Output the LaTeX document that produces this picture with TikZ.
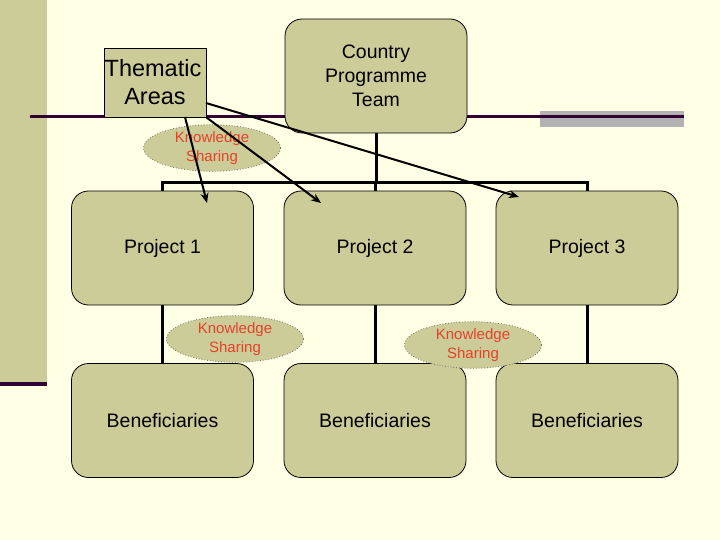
\documentclass[tikz,border=0pt]{standalone}
\usepackage{fontspec}
\setmainfont{Liberation Sans}
\usetikzlibrary{shapes.geometric,arrows.meta}
\pgfdeclarelayer{back}
\pgfdeclarelayer{front}
\pgfsetlayers{back,main,front}
\definecolor{bgc}{RGB}{255,255,229}
\definecolor{olive}{RGB}{204,204,153}
\definecolor{plum}{RGB}{51,0,51}
\definecolor{greybar}{RGB}{178,178,178}
\definecolor{ksred}{RGB}{232,64,40}
\tikzset{
  box/.style={draw=black,line width=0.8pt,fill=olive,rounded corners=17pt,
    minimum width=182pt,minimum height=114pt,inner sep=0pt,align=center,
    font=\fontsize{19.5}{24}\selectfont},
  sqbox/.style={draw=black,line width=0.8pt,fill=olive,
    minimum width=102pt,minimum height=69pt,inner sep=0pt,align=center,
    font=\fontsize{23.5}{28}\selectfont},
  ks/.style={ellipse,draw=black!55,dotted,line width=0.8pt,fill=olive,
    minimum width=137pt,minimum height=40pt,inner sep=0pt,align=center,
    text=ksred,font=\fontsize{15}{19}\selectfont},
  tree/.style={line width=3pt,draw=black},
  arr/.style={line width=2pt,draw=black,-{Stealth[length=10pt,width=8pt]}}
}
\begin{document}
\begin{tikzpicture}[x=1pt,y=-1pt]
\useasboundingbox (0,0) rectangle (720,540);
\begin{pgfonlayer}{back}
\fill[bgc] (0,0) rectangle (720,540);
% left bar
\fill[olive] (0,0) rectangle (47,382);
\fill[plum] (0,382) rectangle (47,386);
% top rule
\fill[greybar] (540,111) rectangle (684,127);
\draw[plum,line width=3pt] (30,117) -- (684,117);
\end{pgfonlayer}
% bus coordinate
\coordinate (bus) at (376,183);
% nodes
\node[box] (cpt) at (376,76) {Country\\Programme\\Team};
\node[box] (p1) at (162.5,248) {Project 1};
\node[box] (p2) at (375,248) {Project 2};
\node[box] (p3) at (587,248) {Project 3};
\node[box] (b1) at (162.5,420.5) {Beneficiaries};
\node[box] (b2) at (375,420.5) {Beneficiaries};
\node[box] (b3) at (587,420.5) {Beneficiaries};
% tree lines (behind boxes)
\begin{pgfonlayer}{back}
\draw[tree] (cpt.south) -- (bus);
\draw[tree] (p1.north) |- (bus) -| (p3.north);
\draw[tree] (p2.north) -- (p2.north |- bus);
\draw[tree] (p1.south) -- (b1.north);
\draw[tree] (p2.south) -- (b2.north);
\draw[tree] (p3.south) -- (b3.north);
\end{pgfonlayer}
% thematic areas
\node[sqbox] (ta) at (155,82.5) {\hspace*{-4pt}Thematic\\Areas};
% knowledge sharing ellipses
\node[ks] (ks1) at (212,148) {Knowledge\\Sharing};
\node[ks] (ks2) at (235,339) {Knowledge\\Sharing};
\node[ks] (ks3) at (473,345) {Knowledge\\Sharing};
% arrows
\coordinate (t1) at (207,203);
\coordinate (t2) at (321,203);
\coordinate (t3) at (519,197);
\coordinate (s1) at (185,117);
\coordinate (s3) at (206,103);
\begin{pgfonlayer}{front}
\draw[arr] (s1) -- (t1);
\draw[arr] (ta.south east) -- (t2);
\draw[arr] (s3) -- (t3);
\end{pgfonlayer}
\end{tikzpicture}
\end{document}
